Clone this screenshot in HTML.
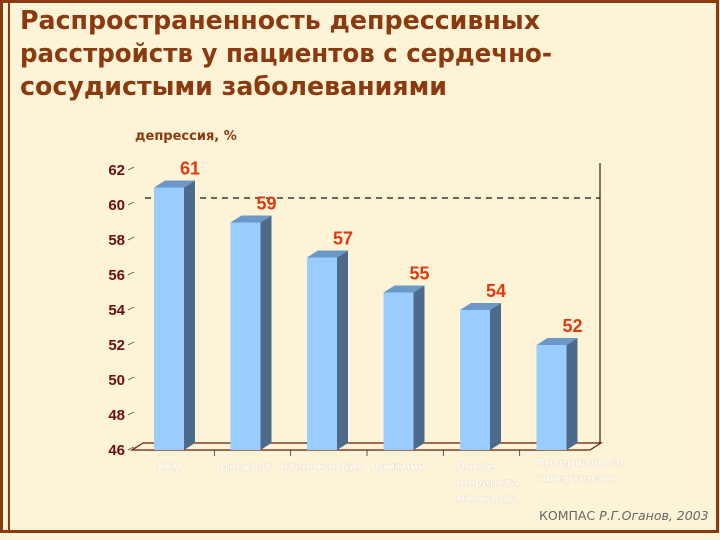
<!DOCTYPE html>
<html><head><meta charset="utf-8"><style>
html,body{margin:0;padding:0;background:#fdf3d6;}
svg{display:block;font-family:"DejaVu Sans","Liberation Sans",sans-serif;}
</style></head><body>
<svg id="c" width="720" height="540" viewBox="0 0 720 540">
<rect x="0" y="0" width="720" height="540" fill="#fdf3d6"/>
<rect x="1.5" y="1.5" width="716" height="530" fill="none" stroke="#8b3a0f" stroke-width="3"/>
<line x1="9" y1="3" x2="9" y2="530" stroke="#8b3a0f" stroke-width="2"/>
<g fill="#8b3a0f" font-weight="bold" font-size="25.5">
<text x="20" y="29" textLength="520" lengthAdjust="spacingAndGlyphs">Распространенность депрессивных</text>
<text x="20" y="62" textLength="532" lengthAdjust="spacingAndGlyphs">расстройств у пациентов с сердечно-</text>
<text x="20" y="95" textLength="427" lengthAdjust="spacingAndGlyphs">сосудистыми заболеваниями</text>
</g>
<text x="135" y="140" font-size="13" font-weight="bold" fill="#8b3a0f">депрессия, %</text>
<g id="axes"></g>
<g id="bars"></g>
<text x="539" y="520" font-size="12.5" fill="#666">КОМПАС <tspan font-style="italic">Р.Г.Оганов, 2003</tspan></text>
</svg>
<script>
const categories = ["ХСН","Инсульт","Стенокардия","Аритмии","После инфаркта миокарда","Артериальная гипертензия"];
const values = [61,59,57,55,54,52];
const ticks = [46,48,50,52,54,56,58,60,62];
const refLine = 60;
const NS="http://www.w3.org/2000/svg";
const yMin=46,yMax=62,y0=450,y1=170;
const y=v=>y0-(v-yMin)*(y0-y1)/(yMax-yMin);
const DX=11,DY=7,plotX0=132,plotX1=590,slot=76.5,firstX=154,bw=30;
const x=i=>firstX+i*slot;
function mk(tag,attrs,parent){const e=document.createElementNS(NS,tag);for(const k in attrs)e.setAttribute(k,attrs[k]);parent.appendChild(e);return e;}
const ax=document.getElementById('axes'),bg=document.getElementById('bars');
const fl=mk('polygon',{points:`${plotX0},${y0} ${plotX1},${y0} ${plotX1+DX},${y0-DY} ${plotX0+DX},${y0-DY}`,fill:'none',stroke:'#6b1a0a','stroke-width':1.2},ax);


const wall=mk('line',{x1:plotX1+DX-1,y1:163,x2:plotX1+DX-1,y2:y0-DY,stroke:'#3a1a0a','stroke-width':1.2},ax);


const rl=mk('line',{x1:145,y1:y(refLine)-DY,x2:plotX1+DX-1,y2:y(refLine)-DY,stroke:'#111','stroke-width':1.2,'stroke-dasharray':'6,5'},ax);


ticks.forEach(t=>{
  const tx=mk('text',{x:125,y:y(t)+5,'text-anchor':'end','font-size':15,'font-weight':'bold',fill:'#6b0f0f','font-family':'Liberation Sans, sans-serif'},ax);
  tx.textContent=t;
  
  
  const tk=mk('line',{x1:128,y1:y(t),x2:134,y2:y(t)-3,stroke:'#555','stroke-width':0.8},ax);
  
  
});
for(let i=1;i<categories.length;i++){
  const xx=plotX0+i*(plotX1-plotX0)/categories.length;
  const t=mk('line',{x1:xx+6,y1:y0,x2:xx+6,y2:y0+6,stroke:'#333','stroke-width':0.8},ax);
  
  
}
values.forEach((v,i)=>{
  const g=mk('g',{},bg);
  
  
  const xl=x(i),yt=y(v);
  mk('rect',{x:xl,y:yt,width:bw,height:y0-yt,fill:'#99ccff'},g);
  mk('polygon',{points:`${xl+bw},${yt} ${xl+bw+DX},${yt-DY} ${xl+bw+DX},${y0-DY} ${xl+bw},${y0}`,fill:'#4d6a8a'},g);
  mk('polygon',{points:`${xl},${yt} ${xl+DX},${yt-DY} ${xl+bw+DX},${yt-DY} ${xl+bw},${yt}`,fill:'#6c98c8'},g);
  const lb=mk('text',{x:xl+bw+6,y:yt-DY-6,'text-anchor':'middle','font-size':18,'font-weight':'bold',fill:'#e03a12','font-family':'Liberation Sans, sans-serif'},bg);
  lb.textContent=v;
  
  
  const lines=i===4?["После","инфаркта","миокарда"]:(i===5?["Артериальная","гипертензия"]:[categories[i]]);
  const ly=i===5?466:470;
  lines.forEach((ln,j)=>{
    const c=mk('text',{x:i===4?xl-4:(i===5?xl:xl+bw/2),y:ly+j*16,'text-anchor':(i>=4?'start':'middle'),'font-size':11,'font-weight':'bold',fill:'#ffffff',stroke:'#e8dcc0','stroke-width':0.4},bg);
    c.textContent=ln;
    
    
  });
});
</script>
</body></html>
